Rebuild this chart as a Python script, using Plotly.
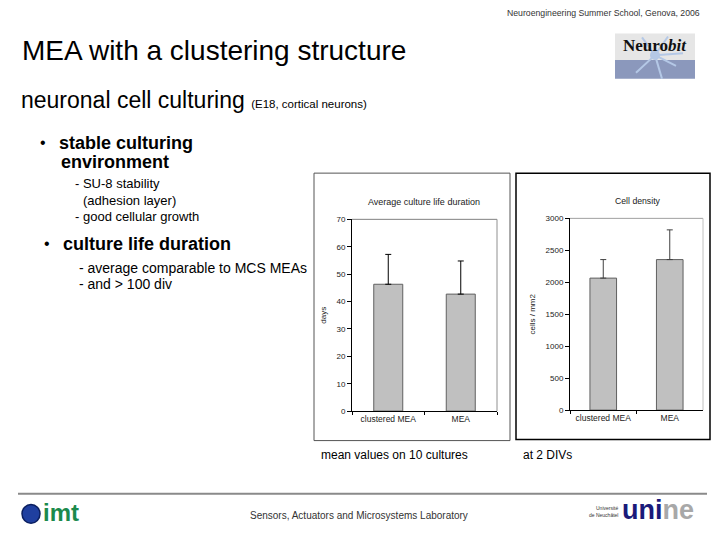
import plotly.graph_objects as go

W, H = 718, 539

# ---- data ----
categories = ["clustered MEA", "MEA"]
life_days = [46.3, 42.7]
life_err = [10.9, 12.1]
density = [2065, 2355]
density_err = [290, 465]
life_ticks = [0, 10, 20, 30, 40, 50, 60, 70]
density_ticks = [0, 500, 1000, 1500, 2000, 2500, 3000]

FONT = "Arial, Liberation Sans, sans-serif"


def px(x):
    return x / W


def py(y):
    return 1 - y / H


fig = go.Figure()

bar_style = dict(marker=dict(color="#c0c0c0", line=dict(color="#606060", width=1)),
                 width=0.4, showlegend=False, hoverinfo="skip")

fig.add_trace(go.Bar(x=categories, y=life_days, xaxis="x", yaxis="y",
                     error_y=dict(type="data", array=life_err, arrayminus=[0, 0],
                                  symmetric=False, color="#000000", thickness=1, width=3),
                     **bar_style))
fig.add_trace(go.Bar(x=categories, y=density, xaxis="x2", yaxis="y2",
                     error_y=dict(type="data", array=density_err, arrayminus=[0, 0],
                                  symmetric=False, color="#404040", thickness=1, width=3),
                     **bar_style))

axis_common = dict(showgrid=False, zeroline=False, showline=True, linecolor="#000000",
                   linewidth=1, ticks="outside", tickcolor="#000000",
                   tickfont=dict(family=FONT, size=8, color="#222222"))
xfont = dict(family=FONT, size=8.5, color="#222222")

# chart geometry (pixels)
c1 = dict(l=352, r=497, t=219, b=414)
c2 = dict(l=570, r=703, t=218, b=413)

fig.update_layout(
    width=W, height=H, margin=dict(l=0, r=0, t=0, b=0),
    paper_bgcolor="white", plot_bgcolor="white",
    xaxis=dict(domain=[px(c1["l"]), px(c1["r"])], anchor="y", type="category",
               range=[-0.5, 1.5], tickson="boundaries", ticklen=3,
               **{**axis_common, "tickfont": xfont}),
    yaxis=dict(domain=[py(c1["b"]), py(c1["t"])], anchor="x", range=[0, 70],
               tickvals=life_ticks, ticklen=4,
               title=dict(text="days", font=dict(family=FONT, size=8, color="#222222"), standoff=8),
               **axis_common),
    xaxis2=dict(domain=[px(c2["l"]), px(c2["r"])], anchor="y2", type="category",
                range=[-0.5, 1.5], tickson="boundaries", ticklen=3,
                **{**axis_common, "tickfont": xfont}),
    yaxis2=dict(domain=[py(c2["b"]), py(c2["t"])], anchor="x2", range=[0, 3000],
                tickvals=density_ticks, ticklen=4,
                title=dict(text="cells / mm2", font=dict(family=FONT, size=8, color="#222222"), standoff=8),
                **axis_common),
)

shapes = []


def rect(x0, y0, x1, y1, **kw):
    shapes.append(dict(type="rect", xref="paper", yref="paper",
                       x0=px(x0), x1=px(x1), y0=py(y1), y1=py(y0), **kw))


def line(x0, y0, x1, y1, color, width):
    shapes.append(dict(type="line", xref="paper", yref="paper",
                       x0=px(x0), x1=px(x1), y0=py(y0), y1=py(y1),
                       line=dict(color=color, width=width)))


# chart frames
rect(314, 172, 510, 444, line=dict(color="#555555", width=1), fillcolor="rgba(0,0,0,0)")
rect(516, 172, 710, 443, line=dict(color="#000000", width=1.5), fillcolor="rgba(0,0,0,0)")
# plot-area top/right borders
line(c1["l"], c1["t"], c1["r"], c1["t"], "#808080", 1)
line(c1["r"], c1["t"], c1["r"], c1["b"], "#909090", 1)
line(c2["l"], c2["t"], c2["r"], c2["t"], "#a0a0a0", 1)
line(c2["r"], c2["t"], c2["r"], c2["b"], "#c0c0c0", 1)

# footer rule
line(18, 498, 707, 498, "#8a8a8a", 2)

# Neurobit logo
rect(615, 30, 695, 57, fillcolor="#e6e6e6", line=dict(width=0), layer="below")
rect(615, 57, 695, 76, fillcolor="#8b98bc", line=dict(width=0), layer="below")
for (x0, y0, x1, y1) in [(655, 52, 642, 34), (655, 52, 668, 33), (655, 52, 676, 63),
                         (655, 52, 636, 70), (655, 52, 662, 76), (655, 52, 683, 50)]:
    line(x0, y0, x1, y1, "#b4c8e6", 2)
shapes.append(dict(type="circle", xref="paper", yref="paper", x0=px(650), x1=px(660),
                   y0=py(57), y1=py(47), fillcolor="#b4c8e6", line=dict(width=0)))

# imt logo circle
shapes.append(dict(type="circle", xref="paper", yref="paper", x0=px(22), x1=px(40),
                   y0=py(528), y1=py(509), fillcolor="#1f3f9f",
                   line=dict(color="#0b1f60", width=1.5)))

fig.update_layout(shapes=shapes)

ann = []


def text(x, y, s, size, color="#000000", anchor="left", bold=False, family=FONT, italic=False):
    if bold:
        s = "<b>" + s + "</b>"
    if italic:
        s = "<i>" + s + "</i>"
    ann.append(dict(x=px(x), y=py(y), xref="paper", yref="paper", text=s, showarrow=False,
                    xanchor=anchor, yanchor="middle",
                    font=dict(family=family, size=size, color=color)))


text(702, 9, "Neuroengineering Summer School, Genova, 2006", 8.7, "#333333", anchor="right")
text(20, 47, "MEA with a clustering structure", 28)
text(19, 98, "neuronal cell culturing <span style='font-size:11.5px'>(E18, cortical neurons)</span>", 23)

text(38, 141, "•", 16)
text(57, 141, "stable culturing", 18, bold=True)
text(59, 161, "environment", 18, bold=True)
text(73, 183, "- SU-8 stability", 13)
text(81, 200, "(adhesion layer)", 13)
text(73, 216, "- good cellular growth", 13)
text(42, 244, "•", 16)
text(61, 244, "culture life duration", 18, bold=True)
text(77, 268, "- average comparable to MCS MEAs", 14)
text(77, 285, "- and > 100 div", 14)

text(424, 201, "Average culture life duration", 9, "#222222", anchor="center")
text(638, 200, "Cell density", 8.7, "#222222", anchor="center")

text(319, 459, "mean values on 10 cultures", 12)
text(521, 459, "at 2 DIVs", 12)

text(359, 520, "Sensors, Actuators and Microsystems Laboratory", 10, "#333333", anchor="center")

# Neurobit wordmark
ann.append(dict(x=px(655), y=py(42), xref="paper", yref="paper", showarrow=False,
                xanchor="center", yanchor="middle",
                text="<b>Neuro</b><b><i>bit</i></b>",
                font=dict(family="Liberation Serif, DejaVu Serif, serif", size=17, color="#111111")))
# imt wordmark
text(41, 517, "imt", 24, "#1c8a4c", bold=True)
# unine
text(620, 513, "Université", 5, "#333333", anchor="right")
text(620, 520, "de Neuchâtel", 5, "#333333", anchor="right")
ann.append(dict(x=px(620), y=py(515), xref="paper", yref="paper", showarrow=False,
                xanchor="left", yanchor="middle",
                text="<b><span style='color:#1a1a7a'>uni</span><span style='color:#a8a8a8'>ne</span></b>",
                font=dict(family=FONT, size=27)))

fig.update_layout(annotations=ann)

fig.write_html("out.html", config={"displayModeBar": False},
               post_script="document.body.style.margin='0';document.body.style.padding='0';")
